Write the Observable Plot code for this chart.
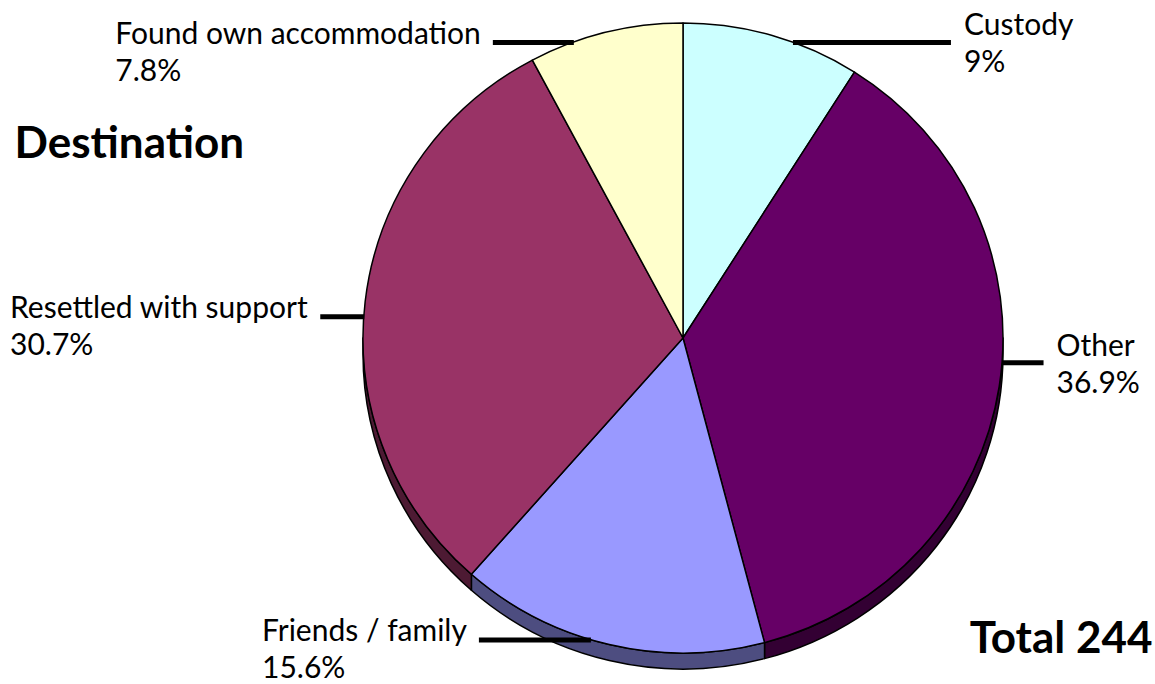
<!DOCTYPE html>
<html><head><meta charset="utf-8">
<script src="https://cdn.jsdelivr.net/npm/d3@7"></script>
<script src="https://cdn.jsdelivr.net/npm/@observablehq/plot@0.6"></script>
<style>html,body{margin:0;padding:0;background:#fff;overflow:hidden;} svg{display:block;}</style>
</head><body><div id="chart"></div>
<script>
// ---- data ----
const categories = ["Custody", "Other", "Friends / family", "Resettled with support", "Found own accommodation"];
const shares = [9, 36.9, 15.6, 30.7, 7.8];
const shareLabels = ["9%", "36.9%", "15.6%", "30.7%", "7.8%"];
const sliceColors = ["#ccffff", "#660066", "#9999ff", "#993366", "#ffffcc"];
const titleText = "Destination";
const totalText = "Total 244";

// ---- layout (not data) ----
const W = 1155, H = 684;
const pieLayout = {cx: 683, cy: 338, rx: 320, ry: 315, depth: 16};
const labelNudge = [3.8, -4.4, 3.5, -2.7, -6];   // degrees from slice mid-angle where leader touches
const labelReach = [158, 41, 112, 44, 81];       // leader length in px
const fontFamily = "Lato, 'Open Sans', sans-serif";
const labelSize = 30;
const lineGap = 37;

const color = Plot.scale({color: {domain: categories, range: sliceColors}});
const slices = d3.pie().sort(null).value(d => d.share)(
  categories.map((c, i) => ({category: c, share: shares[i], pct: shareLabels[i]}))
);

const ctx = document.createElement("canvas").getContext("2d");
ctx.font = `${labelSize}px Lato`;
const textWidth = s => ctx.measureText(s).width;

const {cx, cy, rx, ry, depth} = pieLayout;
const edge = a => [cx + rx * Math.sin(a), cy - ry * Math.cos(a)];

// leader lines and labels derived from slice angles
const labels = slices.map((s, i) => {
  const a = (s.startAngle + s.endAngle) / 2 + labelNudge[i] * Math.PI / 180;
  const [ex, ey] = edge(a);
  const dir = Math.sin(a) >= 0 ? 1 : -1;
  const endX = ex + dir * labelReach[i];
  let tx, ny;
  if (dir > 0) { tx = endX + 13; ny = ey - 7; }
  else { tx = endX - 12 - textWidth(s.data.category); ny = ey + 1; }
  return {name: s.data.category, pct: s.data.pct, x1: ex, y1: ey, x2: endX, tx, ny, py: ny + lineGap};
});

function pieMark(index, scales) {
  const X = scales.x, Y = scales.y;
  const P = (a, off = 0) => { const [x, y] = edge(a); return [X(x), Y(y + off)]; };
  const sx = Math.abs(X(cx + rx) - X(cx)), sy = Math.abs(Y(cy + ry) - Y(cy));
  const g = d3.create("svg:g");
  const lo = Math.PI / 2, hi = 3 * Math.PI / 2;
  // side walls (visible lower half)
  for (const s of slices) {
    const t0 = Math.max(s.startAngle, lo), t1 = Math.min(s.endAngle, hi);
    if (t1 <= t0) continue;
    const a = P(t0), b = P(t1), c = P(t1, depth), d = P(t0, depth);
    const base = d3.rgb(color.apply(s.data.category));
    const dark = d3.rgb(base.r / 2, base.g / 2, base.b / 2);
    g.append("path")
      .attr("d", `M${a}A${sx},${sy} 0 0 1 ${b}L${c}A${sx},${sy} 0 0 0 ${d}Z`)
      .attr("fill", dark.formatHex()).attr("stroke", "#000").attr("stroke-width", 1.5)
      .attr("stroke-linejoin", "round");
  }
  // top faces
  const c0 = [X(cx), Y(cy)];
  for (const s of slices) {
    const large = (s.endAngle - s.startAngle) > Math.PI ? 1 : 0;
    g.append("path")
      .attr("d", `M${c0}L${P(s.startAngle)}A${sx},${sy} 0 ${large} 1 ${P(s.endAngle)}Z`)
      .attr("fill", color.apply(s.data.category)).attr("stroke", "#000").attr("stroke-width", 1.5)
      .attr("stroke-linejoin", "round");
  }
  return g.node();
}

const chart = Plot.plot({
  width: W, height: H,
  margin: 0,
  x: {domain: [0, W], range: [0, W], axis: null},
  y: {domain: [0, H], range: [0, H], axis: null},
  style: {fontFamily, background: "#fff"},
  marks: [
    pieMark,
    Plot.link(labels, {x1: "x1", y1: "y1", x2: "x2", y2: "y1", stroke: "#000", strokeWidth: 5}),
    Plot.text(labels, {x: "tx", y: "ny", text: "name", textAnchor: "start", lineAnchor: "bottom",
      fontSize: labelSize, fill: "#000", fontFamily}),
    Plot.text(labels, {x: "tx", y: "py", text: "pct", textAnchor: "start", lineAnchor: "bottom",
      fontSize: labelSize, fill: "#000", fontFamily}),
    Plot.text([titleText], {text: d => d, frameAnchor: "top-left", dx: 14, dy: 157, textAnchor: "start",
      lineAnchor: "bottom", fontSize: 44, fontWeight: "bold", fill: "#000", fontFamily}),
    Plot.text([totalText], {text: d => d, frameAnchor: "top-right", dx: -3, dy: 652, textAnchor: "end",
      lineAnchor: "bottom", fontSize: 44, fontWeight: "bold", fill: "#000", fontFamily})
  ]
});
document.getElementById("chart").appendChild(chart);
</script>
</body></html>
